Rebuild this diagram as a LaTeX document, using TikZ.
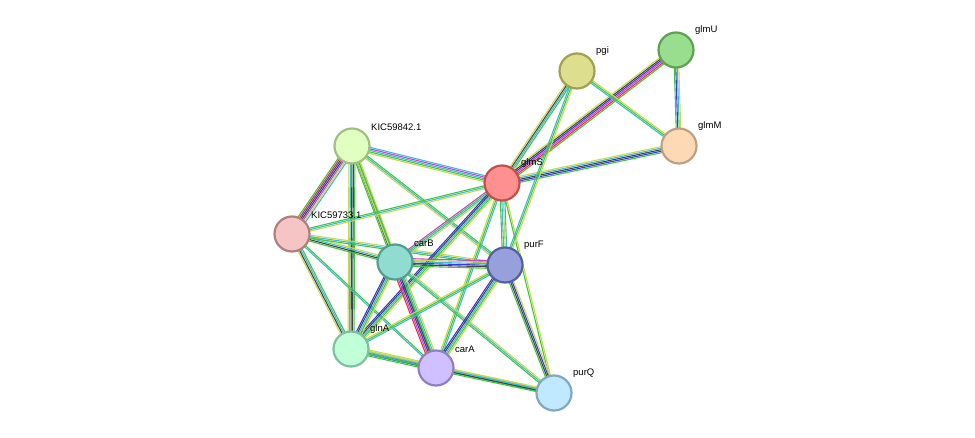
\documentclass[tikz,border=0pt]{standalone}
\usepackage{fontspec}
\setmainfont{Liberation Sans}
\usetikzlibrary{calc}

\definecolor{eg}{HTML}{3CC83C}
\definecolor{ey}{HTML}{C8D848}
\definecolor{ec}{HTML}{40B8D8}
\definecolor{eb}{HTML}{3838E0}
\definecolor{ek}{HTML}{444444}
\definecolor{er}{HTML}{F03030}
\definecolor{em}{HTML}{D040D0}
% node fills / borders
\definecolor{fpgi}{HTML}{DEDE8F}\definecolor{dpgi}{HTML}{A0A050}
\definecolor{fglmU}{HTML}{99DD8F}\definecolor{dglmU}{HTML}{60A050}
\definecolor{fglmM}{HTML}{FDD9B5}\definecolor{dglmM}{HTML}{C0A080}
\definecolor{fkicA}{HTML}{E0FFC0}\definecolor{dkicA}{HTML}{A0C080}
\definecolor{fglmS}{HTML}{FF9090}\definecolor{dglmS}{HTML}{C05050}
\definecolor{fkicB}{HTML}{F5C5C5}\definecolor{dkicB}{HTML}{B08080}
\definecolor{fcarB}{HTML}{90DCD0}\definecolor{dcarB}{HTML}{50A090}
\definecolor{fpurF}{HTML}{98A0DC}\definecolor{dpurF}{HTML}{5060A0}
\definecolor{fglnA}{HTML}{C0FFD8}\definecolor{dglnA}{HTML}{80C0A0}
\definecolor{fcarA}{HTML}{D0C0FF}\definecolor{dcarA}{HTML}{9080C0}
\definecolor{fpurQ}{HTML}{C0E8FF}\definecolor{dpurQ}{HTML}{80A8C0}

\tikzset{
  prot/.style={circle, draw=d#1, fill=f#1, line width=2.2pt, minimum size=35pt, inner sep=0pt},
  lbl/.style={font=\fontsize{9.5}{10}\selectfont, anchor=south west, inner sep=1pt},
  lnk/.style={line width=1.1pt}
}

% parallel coloured links between two nodes
\newcommand{\link}[3]{%
  \foreach \c [count=\i] in {#3} {\xdef\nlinks{\i}}%
  \foreach \c [count=\i] in {#3} {%
    \pgfmathsetmacro{\off}{(\i-(\nlinks+1)/2)*1.5}%
    \draw[lnk, \c] ($(#1)!\off pt!90:(#2)$) -- ($(#2)!\off pt!-90:(#1)$);
  }%
}

\begin{document}
\begin{tikzpicture}[x=1pt, y=-1pt]
\useasboundingbox (0,0) rectangle (975,438);

% proteins
\coordinate (pgi) at (577,71);
\coordinate (glmU) at (676,50);
\coordinate (glmM) at (679,146);
\coordinate (kicA) at (352,146);
\coordinate (glmS) at (502,183);
\coordinate (kicB) at (292,234);
\coordinate (carB) at (395,262);
\coordinate (purF) at (505,265);
\coordinate (glnA) at (351,349);
\coordinate (carA) at (436,368);
\coordinate (purQ) at (554,393);

% links
\link{kicA}{kicB}{eg,er,eb,ek,em,ey,ec}
\link{kicA}{glmS}{ey,eg,ec,em,ec}
\link{kicA}{carB}{eg,ek,ec,ey}
\link{kicA}{glnA}{ey,ec,ek,ek,eg}
\link{kicA}{purF}{ey,ec,eg}
\link{kicA}{carA}{ey,eg}
\link{kicB}{glmS}{ey,ec,eg}
\link{kicB}{carB}{eg,ek,ec,ey}
\link{kicB}{purF}{eg,ec,ey}
\link{kicB}{glnA}{ey,ek,ec,eg}
\link{kicB}{carA}{ec,eg}
\link{glmS}{pgi}{eg,ec,ek,ey}
\link{glmS}{glmU}{eg,er,em,eb,ek,ey}
\link{glmS}{glmM}{eg,eb,ek,ec,ey}
\link{glmS}{carB}{em,eg,ec,ey}
\link{glmS}{purF}{eg,ec,ey,ec}
\link{glmS}{glnA}{eb,ek,ec,eg,ey}
\link{glmS}{carA}{ey,eg,ec}
\link{glmS}{purQ}{eg,ey}
\link{pgi}{glmM}{ec,eg,ey}
\link{pgi}{purF}{ec,eg,ey}
\link{glmU}{glmM}{eg,eb,ec,ey}
\link{carB}{purF}{eg,ek,eb,ec,ey,em}
\link{carB}{glnA}{eb,ek,ec,eg,ey}
\link{carB}{carA}{er,em,eb,ek,eg,ec,ey}
\link{carB}{purQ}{eg,ec,ey}
\link{purF}{glnA}{ey,eg,ec}
\link{purF}{carA}{eb,ek,ec,eg,ey}
\link{purF}{purQ}{eg,ek,eb,ey}
\link{glnA}{carA}{eg,eb,ek,ec,ey}
\link{glnA}{purQ}{eg,ec,ey}
\link{carA}{purQ}{eg,ek,ec,ey}

% nodes
\foreach \p in {pgi,glmU,glmM,kicA,glmS,kicB,carB,purF,glnA,carA,purQ}
  \node[prot=\p] (n\p) at (\p) {};

% labels
\node[lbl] at ($(pgi)+(18,-14)$) {pgi};
\node[lbl] at ($(glmU)+(18,-14)$) {glmU};
\node[lbl] at ($(glmM)+(18,-14)$) {glmM};
\node[lbl] at ($(kicA)+(18,-14)$) {KIC59842.1};
\node[lbl] at ($(glmS)+(18,-14)$) {glmS};
\node[lbl] at ($(kicB)+(18,-14)$) {KIC59733.1};
\node[lbl] at ($(carB)+(18,-14)$) {carB};
\node[lbl] at ($(purF)+(18,-14)$) {purF};
\node[lbl] at ($(glnA)+(18,-14)$) {glnA};
\node[lbl] at ($(carA)+(18,-14)$) {carA};
\node[lbl] at ($(purQ)+(18,-14)$) {purQ};
\end{tikzpicture}
\end{document}
